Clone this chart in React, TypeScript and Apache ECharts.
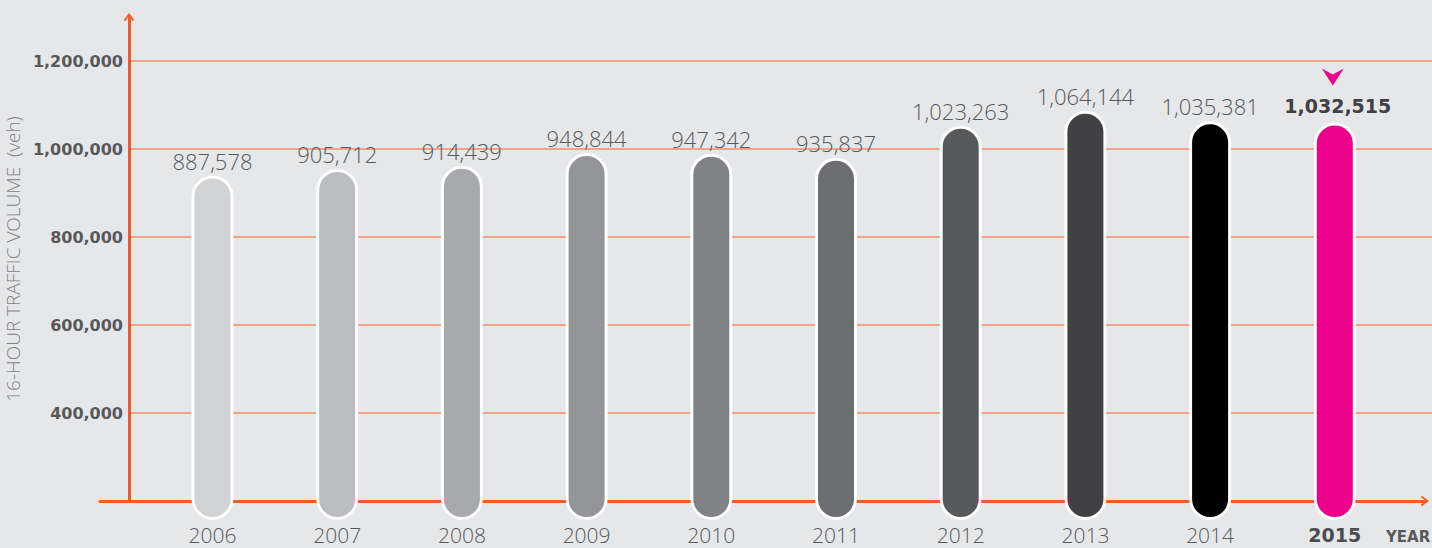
import React, { useEffect, useRef } from "react";
import * as echarts from "echarts";

// ---- data ----
const years = ["2006", "2007", "2008", "2009", "2010", "2011", "2012", "2013", "2014", "2015"];
const volumes = [887578, 905712, 914439, 948844, 947342, 935837, 1023263, 1064144, 1035381, 1032515];
const barColors = ["#d1d2d4", "#bcbdc0", "#a7a9ac", "#939598", "#808285", "#6d6e71", "#58595b", "#414042", "#000000", "#ec008c"];
const highlightIndex = 9;
const yTickMin = 200000;
const yTickStep = 200000;
const yAxisTitle = "16-HOUR TRAFFIC VOLUME  (veh)";
const xAxisTitle = "YEAR";

// ---- layout ----
const W = 1432;
const H = 548;
const TOP = 17;
const BOTTOM = 47;
const ORANGE = "#f15a29";
const GRID_ORANGE = "#f58b6b";
const TEXT = "#58595b";
const fmt = (v: number) => v.toLocaleString("en-US");
const chevron = "path://M0,8 L6,0 L12,8 L10,9 L6,3.2 L2,9 Z";

export default function App() {
  const ref = useRef<HTMLDivElement>(null);

  useEffect(() => {
    if (!ref.current) return;
    const chart = echarts.init(ref.current, undefined, { renderer: "svg" });
    const plotH = H - TOP - BOTTOM;
    // gridlines: 200k at axis, 1.2M at y=61 => 440px per 1,000,000
    const pxPerUnit = 440 / 1000000;
    const yMaxB = yTickMin + plotH / pxPerUnit;
    // bars are drawn from zero at the axis line, 1.2M reaching the top gridline
    const yMaxC = (plotH / 440) * 1200000;

    chart.setOption({
      animation: false,
      backgroundColor: "#e6e7e8",
      grid: [
        { left: 100, right: 7, top: TOP, bottom: BOTTOM, outerBoundsMode: "none", containLabel: false },
        { left: 129, right: 0, top: TOP, bottom: BOTTOM, outerBoundsMode: "none", containLabel: false },
        { left: 150.15, right: 34.85, top: TOP, bottom: BOTTOM, outerBoundsMode: "none", containLabel: false },
      ],
      xAxis: [
        {
          gridIndex: 0,
          type: "value",
          min: 0,
          max: 1,
          axisLine: {
            show: true,
            onZero: false,
            symbol: ["none", chevron],
            symbolSize: [11, 8],
            lineStyle: { color: ORANGE, width: 3 },
          },
          axisTick: { show: false },
          axisLabel: { show: false },
          splitLine: { show: false },
        },
        { gridIndex: 1, type: "value", show: false, min: 0, max: 1 },
        {
          gridIndex: 2,
          type: "category",
          data: years,
          axisLine: { show: false },
          axisTick: { show: false },
          splitLine: { show: false },
          axisLabel: {
            margin: 26,
            formatter: (v: string, i: number) => (i === highlightIndex ? `{hl|${v}}` : `{n|${v}}`),
            rich: {
              n: { fontFamily: "Open Sans", fontWeight: 300, fontSize: 21, lineHeight: 16, color: TEXT },
              hl: { fontFamily: "DejaVu Sans", fontWeight: "bold", fontSize: 19, lineHeight: 16, color: "#4d4d4f" },
            },
          },
        },
      ],
      yAxis: [
        { gridIndex: 0, type: "value", show: false, min: 0, max: 1 },
        {
          gridIndex: 1,
          type: "value",
          min: yTickMin,
          max: yMaxB,
          interval: yTickStep,
          name: yAxisTitle,
          nameLocation: "middle",
          nameGap: 103,
          nameRotate: 90,
          nameTextStyle: { color: "#808285", fontFamily: "Open Sans", fontWeight: 300, fontSize: 19 },
          axisLine: {
            show: true,
            symbol: ["none", chevron],
            symbolSize: [11, 8],
            lineStyle: { color: ORANGE, width: 3 },
          },
          axisTick: { show: false },
          axisLabel: {
            showMinLabel: false,
            showMaxLabel: false,
            margin: 6,
            formatter: (v: number) => fmt(v),
            color: TEXT,
            fontFamily: "DejaVu Sans",
            fontWeight: "bold",
            fontSize: 16,
          },
          splitLine: {
            show: true,
            showMinLine: false,
            showMaxLine: false,
            lineStyle: { color: GRID_ORANGE, width: 1.5 },
          },
        },
        { gridIndex: 2, type: "value", show: false, min: 0, max: yMaxC },
      ],
      graphic: [
        {
          type: "text",
          left: 1386,
          top: 529,
          style: { text: xAxisTitle, fill: TEXT, font: "bold 15px 'DejaVu Sans'" },
        },
      ],
      series: [
        {
          type: "custom",
          xAxisIndex: 2,
          yAxisIndex: 2,
          clip: false,
          data: volumes.map((v, i) => [i, v]),
          encode: { x: 0, y: 1 },
          renderItem: (params: any, api: any) => {
            const i = params.dataIndex;
            const v = api.value(1);
            const top = api.coord([api.value(0), v]);
            const base = api.coord([api.value(0), 0]);
            const bw = 39;
            const hl = i === highlightIndex;
            const children: any[] = [
              {
                type: "rect",
                shape: {
                  x: top[0] - bw / 2,
                  y: top[1] + 1.5,
                  width: bw,
                  height: base[1] - top[1] + 16,
                  r: bw / 2,
                },
                style: { fill: barColors[i], stroke: "#ffffff", lineWidth: 3 },
              },
              {
                type: "text",
                style: {
                  text: fmt(v),
                  x: top[0] + (hl ? 3 : 0),
                  y: top[1] - (hl ? 7 : 4),
                  align: "center",
                  verticalAlign: "bottom",
                  fill: hl ? "#414042" : TEXT,
                  fontFamily: hl ? "DejaVu Sans" : "Open Sans",
                  fontWeight: hl ? "bold" : 300,
                  fontSize: hl ? 19 : 22,
                },
              },
            ];
            if (hl) {
              const cx = top[0] - 2;
              const ty = top[1] - 54;
              children.push({
                type: "polygon",
                shape: {
                  points: [
                    [cx - 11, ty],
                    [cx, ty + 17],
                    [cx + 11, ty],
                    [cx, ty + 6],
                  ],
                },
                style: { fill: "#ec008c" },
              });
            }
            return { type: "group", children };
          },
        },
      ],
    });
    return () => chart.dispose();
  }, []);

  return (
    <div
      ref={ref}
      style={{ position: "fixed", left: 0, top: 0, width: W, height: H, background: "#e6e7e8" }}
    />
  );
}
